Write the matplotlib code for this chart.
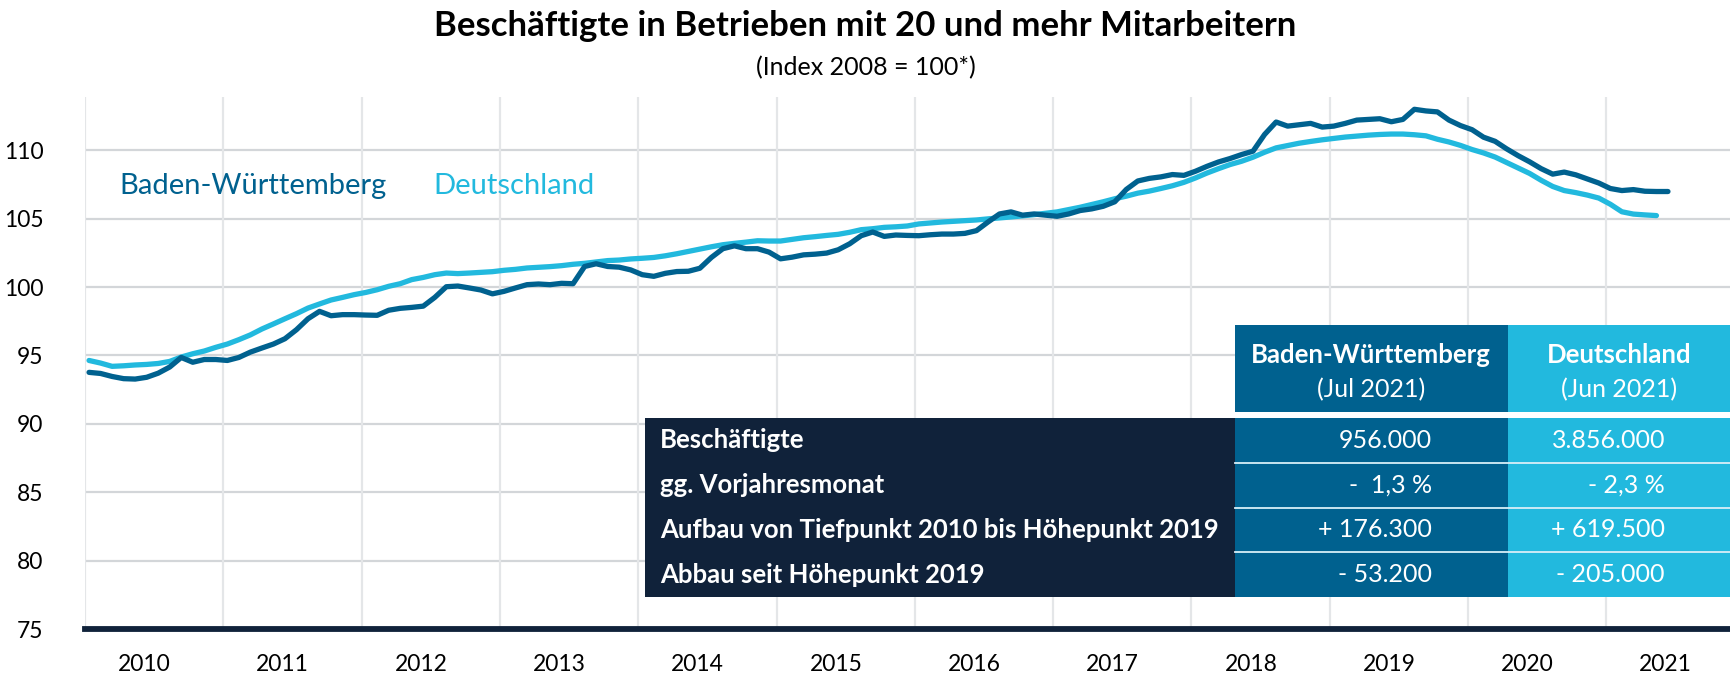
import numpy as np
import matplotlib.pyplot as plt
from matplotlib.patches import Rectangle

plt.rcParams['font.family'] = ['Lato', 'DejaVu Sans']

# Monatswerte, Index 2008 = 100, ab Anfang 2010
bw_values = [
    93.76, 93.68, 93.46, 93.30, 93.27, 93.40, 93.70, 94.15, 94.85, 94.50, 94.70, 94.70,
    94.63, 94.85, 95.24, 95.54, 95.83, 96.22, 96.88, 97.68, 98.22, 97.90, 97.98, 97.98,
    97.95, 97.93, 98.30, 98.44, 98.51, 98.60, 99.24, 100.02, 100.07, 99.93, 99.78, 99.50,
    99.68, 99.93, 100.17, 100.22, 100.17, 100.27, 100.24, 101.50, 101.70, 101.50, 101.45, 101.25,
    100.90, 100.78, 101.00, 101.13, 101.15, 101.37, 102.16, 102.80, 103.01, 102.80, 102.80, 102.55,
    102.06, 102.18, 102.35, 102.40, 102.48, 102.72, 103.16, 103.75, 104.02, 103.70, 103.80, 103.77,
    103.75, 103.82, 103.87, 103.87, 103.92, 104.12, 104.75, 105.34, 105.49, 105.25, 105.34, 105.25,
    105.17, 105.34, 105.59, 105.71, 105.90, 106.23, 107.13, 107.75, 107.94, 108.05, 108.22, 108.16,
    108.46, 108.82, 109.14, 109.39, 109.68, 109.93, 111.15, 112.06, 111.76, 111.86, 111.96, 111.69,
    111.76, 111.96, 112.20, 112.25, 112.30, 112.08, 112.25, 112.99, 112.87, 112.80, 112.20, 111.80,
    111.50, 110.95, 110.65, 110.10, 109.60, 109.15, 108.65, 108.25, 108.40, 108.20, 107.90, 107.60,
    107.20, 107.05, 107.12, 107.00, 106.98, 106.98,
]
de_values = [
    94.63, 94.44, 94.20, 94.24, 94.30, 94.34, 94.41, 94.56, 94.88, 95.12, 95.32, 95.59,
    95.83, 96.15, 96.50, 96.93, 97.30, 97.68, 98.05, 98.46, 98.76, 99.05, 99.24, 99.44,
    99.60, 99.80, 100.05, 100.24, 100.54, 100.70, 100.90, 101.02, 100.98, 101.02, 101.07, 101.12,
    101.22, 101.29, 101.39, 101.44, 101.49, 101.56, 101.66, 101.73, 101.83, 101.93, 101.97, 102.05,
    102.10, 102.16, 102.28, 102.43, 102.60, 102.77, 102.94, 103.09, 103.19, 103.28, 103.38, 103.36,
    103.36, 103.48, 103.60, 103.68, 103.77, 103.85, 104.00, 104.19, 104.26, 104.36, 104.40, 104.46,
    104.61, 104.68, 104.75, 104.80, 104.85, 104.90, 104.98, 105.05, 105.12, 105.20, 105.29, 105.39,
    105.49, 105.66, 105.83, 106.03, 106.23, 106.45, 106.64, 106.86, 107.01, 107.20, 107.40, 107.65,
    107.97, 108.33, 108.65, 108.95, 109.19, 109.49, 109.85, 110.17, 110.34, 110.51, 110.64, 110.76,
    110.86, 110.96, 111.03, 111.10, 111.15, 111.18, 111.18, 111.13, 111.05, 110.80, 110.60, 110.35,
    110.05, 109.80, 109.50, 109.10, 108.70, 108.30, 107.80, 107.35, 107.05, 106.90, 106.72, 106.50,
    106.05, 105.50, 105.33, 105.27, 105.22,
]
years = list(range(2010, 2022))
y_ticks = [75, 80, 85, 90, 95, 100, 105, 110]

title = "Beschäftigte in Betrieben mit 20 und mehr Mitarbeitern"
subtitle = "(Index 2008 = 100*)"
series_names = ["Baden-Württemberg", "Deutschland"]
header_dates = ["(Jul 2021)", "(Jun 2021)"]
row_labels = ["Beschäftigte", "gg. Vorjahresmonat",
              "Aufbau von Tiefpunkt 2010 bis Höhepunkt 2019", "Abbau seit Höhepunkt 2019"]
bw_table = ["956.000", "-  1,3 %", "+ 176.300", "- 53.200"]
de_table = ["3.856.000", "- 2,3 %", "+ 619.500", "- 205.000"]

BW_COL = "#00618f"
DE_COL = "#22b9de"
NAVY = "#10223a"

W, H = 1731, 676
fig = plt.figure(figsize=(W / 100, H / 100), dpi=100)
ax = fig.add_axes([85 / W, 47 / H, 1646 / W, 532 / H])
ax.set_xlim(2010, 2010 + 1646 / 138.3)
ax.set_ylim(75, 75 + 532 / 13.68)

bw_x = 2010 + (np.arange(len(bw_values)) + 0.35) / 12
de_x = 2010 + (np.arange(len(de_values)) + 0.35) / 12
ax.plot(de_x, de_values, color=DE_COL, lw=3.8, solid_capstyle='round', solid_joinstyle='round', zorder=3)
ax.plot(bw_x, bw_values, color=BW_COL, lw=3.8, solid_capstyle='round', solid_joinstyle='round', zorder=4)

# Gitter
for yv in y_ticks[1:]:
    ax.axhline(yv, color="#d3d6d9", lw=1.6, zorder=1)
for yr in years:
    ax.axvline(yr, color="#e4e6e8", lw=1.6, zorder=1)
ax.axhline(75, color=NAVY, lw=4.2, zorder=5, clip_on=False)

for s in ax.spines.values():
    s.set_visible(False)
ax.set_yticks(y_ticks)
ax.set_yticklabels([str(v) for v in y_ticks])
ax.set_xticks([y + 0.43 for y in years])
ax.set_xticklabels([str(y) for y in years])
ax.tick_params(axis='y', length=0, pad=30, labelsize=16.5)
ax.tick_params(axis='x', length=0, pad=18, labelsize=16.5)

ax.text(2010.25, 107.4, series_names[0], color=BW_COL, fontsize=21, va='center')
ax.text(2012.52, 107.4, series_names[1], color=DE_COL, fontsize=21, va='center')

fig.text(0.5, 0.962, title, ha='center', va='center', fontsize=25, fontweight='bold')
fig.text(0.5, 0.9, subtitle, ha='center', va='center', fontsize=18)

# Tabelle (Pixelkoordinaten)
tab = fig.add_axes([0, 0, 1, 1], zorder=10)
tab.set_xlim(0, W)
tab.set_ylim(H, 0)
tab.axis('off')
tab.patch.set_alpha(0)

x_body, x_bw, x_de = 645.5, 1235, 1507.6
head_top, head_bot = 325, 412
body_top, body_bot = 418, 597
tab.add_patch(Rectangle((x_bw, head_top), x_de - x_bw, head_bot - head_top, color=BW_COL, lw=0))
tab.add_patch(Rectangle((x_de, head_top), W - x_de, head_bot - head_top, color=DE_COL, lw=0))
tab.add_patch(Rectangle((x_bw, head_bot), W - x_bw, body_top - head_bot, color="white", lw=0))
tab.add_patch(Rectangle((x_body, body_top), x_bw - x_body, body_bot - body_top, color=NAVY, lw=0))
tab.add_patch(Rectangle((x_bw, body_top), x_de - x_bw, body_bot - body_top, color=BW_COL, lw=0))
tab.add_patch(Rectangle((x_de, body_top), W - x_de, body_bot - body_top, color=DE_COL, lw=0))

row_h = (body_bot - body_top) / len(row_labels)
for i in range(1, len(row_labels)):
    yy = body_top + i * row_h
    tab.plot([x_bw, W], [yy, yy], color="#d8eff8", lw=1.3)

cx_bw = (x_bw + x_de) / 2
cx_de = (x_de + W) / 2
for cx, name, date in [(cx_bw, series_names[0], header_dates[0]), (cx_de, series_names[1], header_dates[1])]:
    tab.text(cx, 355, name, color="white", fontsize=18.5, fontweight='bold', ha='center', va='center')
    tab.text(cx, 390, date, color="white", fontsize=18, ha='center', va='center')

for i, lab in enumerate(row_labels):
    yc = body_top + (i + 0.5) * row_h
    tab.text(660, yc, lab, color="white", fontsize=18.5, fontweight='bold', ha='left', va='center')
    tab.text(1432, yc, bw_table[i], color="white", fontsize=18, ha='right', va='center')
    tab.text(1665, yc, de_table[i], color="white", fontsize=18, ha='right', va='center')

fig.savefig("out.png", dpi=100)
